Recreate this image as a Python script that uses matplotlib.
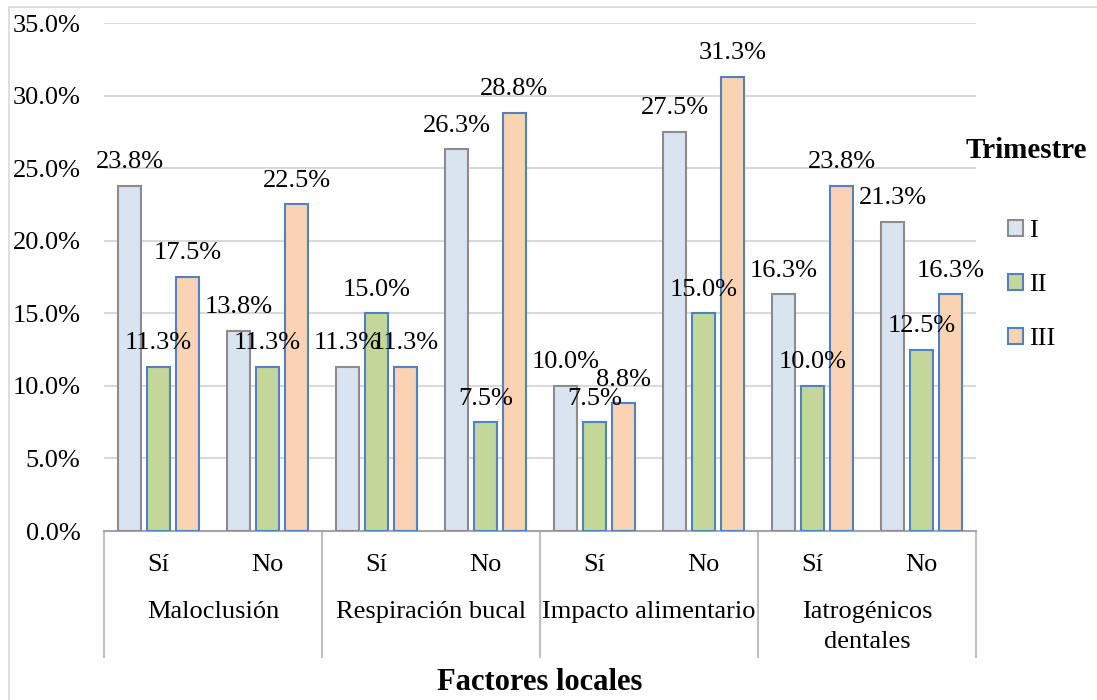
import matplotlib
matplotlib.use("Agg")
import matplotlib.pyplot as plt
import numpy as np
from matplotlib.patches import Patch, Rectangle
from matplotlib.lines import Line2D

plt.rcParams['font.family'] = ['Liberation Serif', 'DejaVu Serif']

groups = ['Maloclusión', 'Respiración bucal', 'Impacto alimentario', 'Iatrogénicos\ndentales']
subcats = ['Sí', 'No'] * 4
series = ['I', 'II', 'III']
trim_I = [23.8, 13.8, 11.3, 26.3, 10.0, 27.5, 16.3, 21.3]
trim_II = [11.3, 11.3, 15.0, 7.5, 7.5, 15.0, 10.0, 12.5]
trim_III = [17.5, 22.5, 11.3, 28.8, 8.8, 31.3, 23.8, 16.3]

fills = ['#DAE3F0', '#C4D79B', '#FAD3B3']
edges = ['#8C8C8C', '#4F81C4', '#4F81C4']

W, H = 1097, 700
fs = 19
fig = plt.figure(figsize=(W / 100, H / 100), dpi=100)

# light frame round the chart area
fig.patches.append(Rectangle((9 / W, -0.05), 1.2, 1 - 7 / H + 0.05,
                             transform=fig.transFigure, fill=False,
                             edgecolor='#D9D9D9', lw=1.2))

x0, x1, ytop, ybot = 104, 976, 23, 531
ax = fig.add_axes([x0 / W, 1 - ybot / H, (x1 - x0) / W, (ybot - ytop) / H])
axh = ybot - ytop

x = np.arange(len(subcats)) + 0.5
bw = 0.21
step = 0.266
for j, vals in enumerate([trim_I, trim_II, trim_III]):
    pos = x + (j - 1) * step
    ax.bar(pos, vals, bw, color=fills[j], edgecolor=edges[j], linewidth=1.5,
           label=series[j], zorder=3)
    for px, v in zip(pos, vals):
        ax.annotate(f'{v:.1f}%', (px, v), xytext=(0, 17), textcoords='offset points',
                    ha='center', va='center', fontsize=fs, zorder=5)

ax.set_xlim(0, 8)
ax.set_ylim(0, 35)
ax.set_yticks(np.arange(0, 36, 5))
ax.set_yticklabels([f'{t:.1f}%' for t in np.arange(0, 36, 5)], fontsize=fs)
ax.tick_params(axis='y', length=0, pad=17)
ax.set_xticks([])
ax.grid(axis='y', color='#D9D9D9', lw=1.5, zorder=0)
for s in ['left', 'right', 'top']:
    ax.spines[s].set_visible(False)
ax.spines['bottom'].set_color('#A6A6A6')
ax.spines['bottom'].set_linewidth(1.5)

# multi-level category axis
tr = ax.get_xaxis_transform()
def yf(ypx):
    return (ybot - ypx) / axh

for i, s in enumerate(subcats):
    ax.text(i + 0.5, yf(565), s, transform=tr, ha='center', va='center', fontsize=fs)
for g in range(5):
    ax.add_line(Line2D([2 * g, 2 * g], [0, yf(657)], transform=tr, color='#BFBFBF',
                       lw=1.5, clip_on=False))
for g, name in enumerate(groups):
    lines = name.split('\n')
    for k, ln in enumerate(lines):
        ax.text(2 * g + 1, yf(612 + 30 * k), ln, transform=tr, ha='center', va='center',
                fontsize=fs)

fig.text(540 / W, 1 - 682 / H, 'Factores locales', ha='center', va='center',
         fontsize=22, fontweight='bold')

# legend
fig.text(1026 / W, 1 - 150 / H, 'Trimestre', ha='center', va='center',
         fontsize=21, fontweight='bold')
handles = [Patch(facecolor=fills[j], edgecolor=edges[j], lw=1.5) for j in range(3)]
fig.legend(handles, series, loc='upper left', bbox_to_anchor=(1008 / W, 1 - 220 / H),
           frameon=False, fontsize=fs, handlelength=0.55, handleheight=0.55,
           handletextpad=0.25, labelspacing=1.2, borderpad=0, borderaxespad=0)

fig.savefig('out.png', dpi=100)
